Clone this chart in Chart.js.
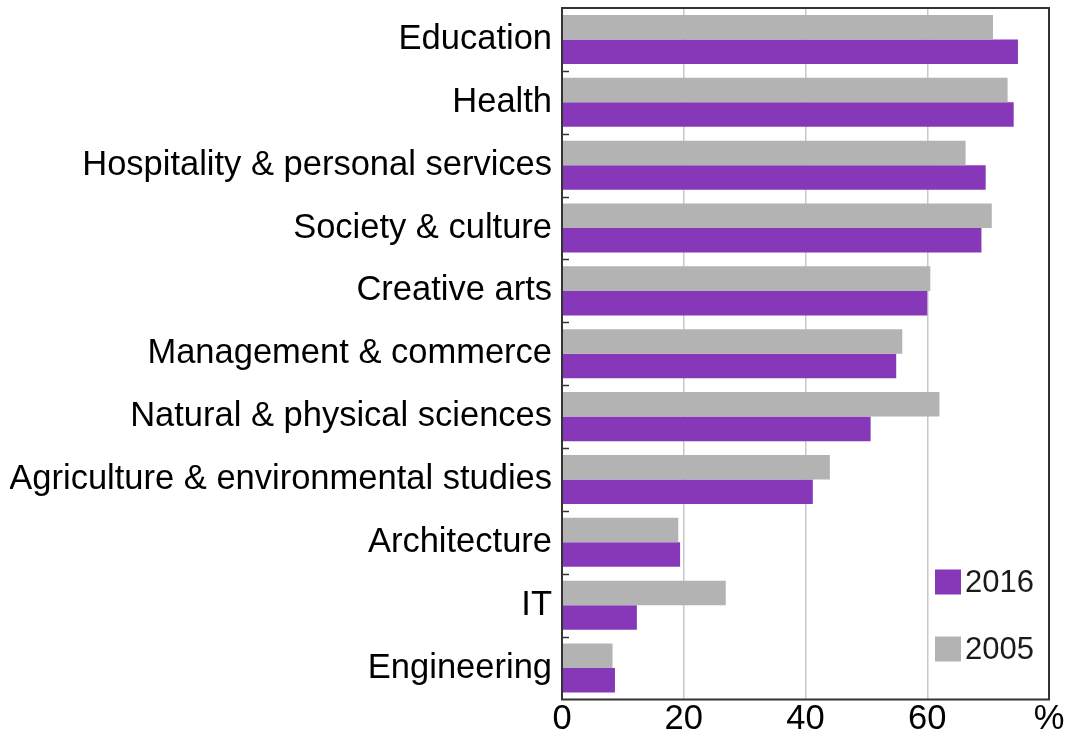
<!DOCTYPE html>
<html>
<head>
<meta charset="utf-8">
<script src="https://cdn.jsdelivr.net/npm/chart.js@4"></script>
<style>
  html, body { margin: 0; padding: 0; background: #fff; }
  #wrap { width: 1067px; height: 738px; }
</style>
</head>
<body>
<div id="wrap"><canvas id="myChart"></canvas></div>
<script>
const labels = [
    'Education',
    'Health',
    'Hospitality & personal services',
    'Society & culture',
    'Creative arts',
    'Management & commerce',
    'Natural & physical sciences',
    'Agriculture & environmental studies',
    'Architecture',
    'IT',
    'Engineering',
];

const values2005 = [70.8, 73.2, 66.3, 70.6, 60.5, 55.9, 62.0, 44.0, 19.1, 26.9, 8.3];
const values2016 = [74.9, 74.2, 69.6, 68.9, 60.0, 54.9, 50.7, 41.2, 19.4, 12.3, 8.7];

const xTicks = [0, 20, 40, 60, 80];

const purple = 'rgb(135, 56, 184)';
const grey = 'rgb(179, 179, 179)';
const fontFamily = '"Liberation Sans", Arial, sans-serif';

// frame, inner category ticks and the legend box in the bottom right
const framePlugin = {
    id: 'frame',
    afterDraw(chart) {
        const ctx = chart.ctx;
        const a = chart.chartArea;
        const y = chart.scales.y;
        const step = y.getPixelForValue(1) - y.getPixelForValue(0);
        ctx.save();
        ctx.strokeStyle = '#333';
        ctx.lineWidth = 1.5;
        for (let i = 1; i < labels.length; i++) {
            const py = Math.round(y.getPixelForValue(i) - step / 2) + 0.5;
            ctx.beginPath();
            ctx.moveTo(a.left, py);
            ctx.lineTo(a.left + 7, py);
            ctx.stroke();
        }
        ctx.lineWidth = 2;
        ctx.strokeRect(a.left, a.top, a.right - a.left, a.bottom - a.top);

        ctx.font = '31px ' + fontFamily;
        ctx.textBaseline = 'middle';
        const items = [['2016', purple], ['2005', grey]];
        items.forEach((it, k) => {
            const top = a.bottom - 130 + k * 67;
            ctx.fillStyle = it[1];
            ctx.fillRect(a.right - 114, top, 26, 25);
            ctx.fillStyle = '#1a1a1a';
            ctx.fillText(it[0], a.right - 84, top + 14);
        });
        ctx.restore();
    }
};

let data = {
    labels: labels,
    datasets: [{
        label: '2005',
        backgroundColor: grey,
        data: values2005,
        barPercentage: 1,
        categoryPercentage: 0.78
    }, {
        label: '2016',
        backgroundColor: purple,
        data: values2016,
        barPercentage: 1,
        categoryPercentage: 0.78
    }]
};

let config = {
    type: 'bar',
    data: data,
    options: {
        indexAxis: 'y',
        responsive: true,
        maintainAspectRatio: false,
        animation: false,
        layout: {
            padding: { left: 10, right: 18, top: 8, bottom: -2 }
        },
        plugins: {
            legend: { display: false },
            tooltip: { enabled: false }
        },
        scales: {
            x: {
                min: 0,
                max: 80,
                afterBuildTicks(scale) {
                    scale.ticks = xTicks.map(v => ({ value: v }));
                },
                afterFit(scale) {
                    scale.paddingLeft = 0;
                    scale.paddingRight = 0;
                },
                ticks: {
                    color: '#000',
                    font: { family: fontFamily, size: 34.5, lineHeight: 1 },
                    padding: 3,
                    maxRotation: 0,
                    callback: v => v === 80 ? '%' : v
                },
                grid: {
                    color: 'rgb(200, 200, 200)',
                    lineWidth: 1.5,
                    drawTicks: false
                },
                border: { display: false }
            },
            y: {
                afterFit(scale) {
                    scale.width = 552;
                    scale.paddingTop = 0;
                    scale.paddingBottom = 0;
                },
                ticks: {
                    color: '#000',
                    font: { family: fontFamily, size: 34.5 },
                    padding: 10
                },
                grid: { display: false, drawTicks: false },
                border: { display: false }
            }
        }
    },
    plugins: [framePlugin]
};

let myChart = new Chart(
    document.getElementById('myChart'),
    config,
);
</script>
</body>
</html>
